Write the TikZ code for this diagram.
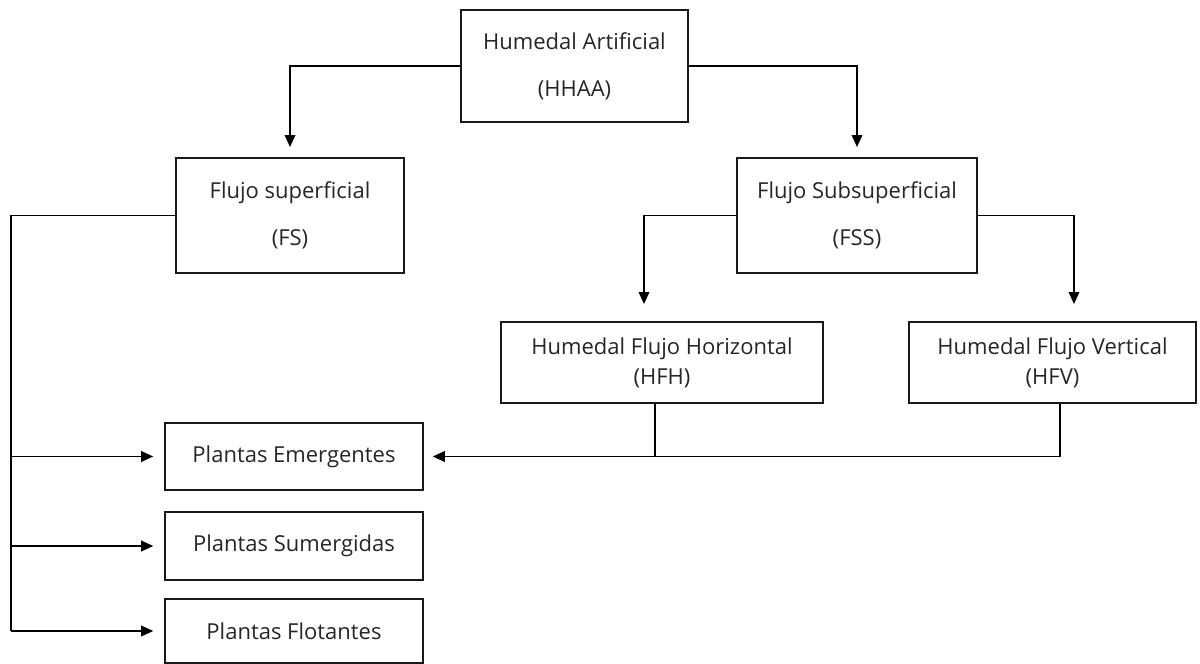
\documentclass[tikz,border=0pt]{standalone}
\usepackage{fontspec}
\setmainfont{Open Sans}
\usetikzlibrary{arrows.meta}
\begin{document}
\begin{tikzpicture}[x=0.75pt,y=-0.75pt,line join=miter,>={Triangle[length=9pt,width=8pt]},line width=1.2pt]
	\tikzset{caja/.style={draw=black!90,align=center,inner sep=0pt,text=black!85,font=\fontsize{16.5}{22.5}\selectfont},
		flecha/.style={->,line width=1.1pt}}
	\useasboundingbox (0,0) rectangle (1200,664);
	\node[caja,minimum width=170.25pt,minimum height=84pt] (hhaa) at (574.5,66) {Humedal Artificial\\[12.75pt](HHAA)};
	\node[caja,minimum width=171pt,minimum height=86.25pt] (fs) at (290,215.5) {Flujo superficial\\[12.75pt](FS)};
	\node[caja,minimum width=180pt,minimum height=86.25pt] (fss) at (857,215.5) {Flujo Subsuperficial\\[12.75pt](FSS)};
	\node[caja,minimum width=241.5pt,minimum height=60.75pt] (hfh) at (662,362.5) {Humedal Flujo Horizontal\\(HFH)};
	\node[caja,minimum width=215.25pt,minimum height=60.75pt] (hfv) at (1052.5,362.5) {Humedal Flujo Vertical\\(HFV)};
	\foreach \n/\y/\h/\t in {pe/456.5/50.25/Plantas Emergentes,ps/546/51/Plantas Sumergidas,pf/631/48/Plantas Flotantes}
	\node[caja,minimum width=193.5pt,minimum height=\h pt] (\n) at (294,\y) {\t};
	\coordinate (afs) at (290,147);
	\coordinate (afss) at (857,147);
	\draw[flecha] (hhaa.west) -| (afs);
	\draw[flecha] (hhaa.east) -| (afss);
	\coordinate (tronco) at (11,0);
	\draw[line width=1.1pt] (fs.west) -| (tronco |- pf.west);
	\foreach \n in {pe,ps,pf}
	\draw[flecha] (tronco |- \n.west) -- ([xshift=-8.25pt]\n.west);
	\coordinate (ahfh) at (644,304);
	\coordinate (ahfv) at (1074,304);
	\draw[flecha] (fss.west) -| (ahfh);
	\draw[flecha] (fss.east) -| (ahfv);
	\draw[flecha] ([xshift=5.6pt]hfv.south) |- ([xshift=6.75pt]pe.east);
	\draw[line width=1.1pt] ([xshift=-5.25pt]hfh.south) -- ([xshift=-5.25pt]hfh.south |- pe.east);
\end{tikzpicture}
\end{document}
